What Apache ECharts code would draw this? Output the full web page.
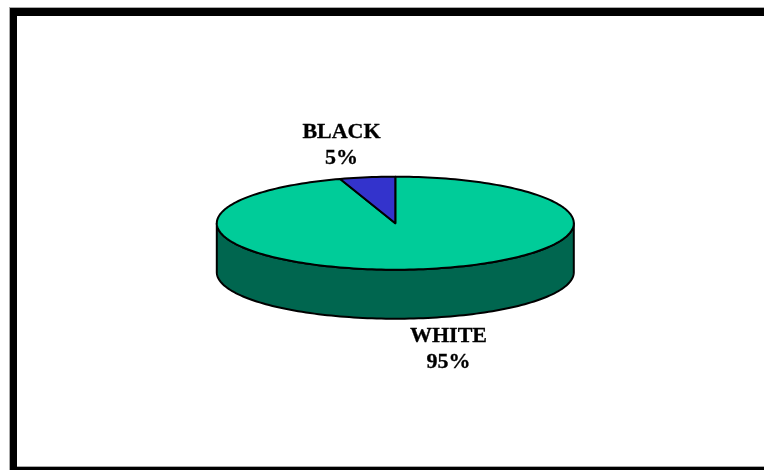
<!DOCTYPE html>
<html>
<head>
<meta charset="utf-8">
<style>html,body{margin:0;padding:0;background:#fff;overflow:hidden}#c{width:764px;height:470px}</style>
<script src="https://cdn.jsdelivr.net/npm/echarts@6/dist/echarts.min.js"></script>
</head>
<body>
<div id="c"></div>
<script>
var categories = ['WHITE', 'BLACK'];
var values = [95, 5];
var topColors = ['#00CC99', '#3333CC'];
var sideColors = ['#00664F', '#1A1A66'];

var total = values.reduce(function (a, b) { return a + b; }, 0);
var cx = 395.3, cy = 223.2, rx = 178.5, ry = 46.5, depth = 49;
var labelSpots = [[448.5, 336, 362], [341.5, 132, 158]];
var labelFont = 'bold 22px "Liberation Serif", "Times New Roman", serif';

function pt(angle, dy) {
  var a = angle * Math.PI / 180;
  return [cx + rx * Math.sin(a), cy - ry * Math.cos(a) + (dy || 0)];
}
function arc(from, to, dy) {
  var out = [], steps = Math.max(2, Math.ceil(Math.abs(to - from) / 1.5));
  for (var i = 0; i <= steps; i++) out.push(pt(from + (to - from) * i / steps, dy));
  return out;
}
function renderItem(params, api) {
  var idx = params.dataIndex, before = 0;
  for (var i = 0; i < idx; i++) before += values[i];
  var start = before / total * 360, end = (before + api.value(0)) / total * 360;
  var stroke = { stroke: '#000', lineWidth: 2, lineJoin: 'round' };
  var kids = [];
  var s = Math.max(start, 90), e = Math.min(end, 270);
  if (e > s) {
    kids.push({
      type: 'polygon',
      shape: { points: arc(s, e, 0).concat(arc(e, s, depth)) },
      style: Object.assign({ fill: sideColors[idx] }, stroke)
    });
  }
  kids.push({
    type: 'polygon',
    shape: { points: [[cx, cy]].concat(arc(start, end, 0)) },
    style: Object.assign({ fill: topColors[idx] }, stroke)
  });
  var spot = labelSpots[idx];
  [categories[idx], api.value(0) + '%'].forEach(function (t, k) {
    kids.push({
      type: 'text', x: spot[0], y: spot[k + 1],
      style: { text: t, font: labelFont, fill: '#000', stroke: '#000', lineWidth: 0.3, align: 'center', verticalAlign: 'middle' }
    });
  });
  return { type: 'group', children: kids };
}

var chart = echarts.init(document.getElementById('c'), null, { renderer: 'canvas' });
chart.setOption({
  animation: false,
  backgroundColor: '#fff',
  graphic: [
    { type: 'rect', z: 0, shape: { x: 9, y: 7, width: 755, height: 463 }, style: { fill: '#aaa' } },
    { type: 'rect', z: 1, shape: { x: 10, y: 8, width: 754, height: 462 }, style: { fill: '#000' } },
    { type: 'rect', z: 2, shape: { x: 17, y: 16, width: 747, height: 450 }, style: { fill: '#fff' } },
    { type: 'rect', z: 2, shape: { x: 17, y: 466, width: 747, height: 1 }, style: { fill: '#aaa' } }
  ],
  series: [{
    type: 'custom',
    z: 5,
    coordinateSystem: 'none',
    renderItem: renderItem,
    data: values.map(function (v, i) { return { name: categories[i], value: [v] }; })
  }]
});
</script>
</body>
</html>
